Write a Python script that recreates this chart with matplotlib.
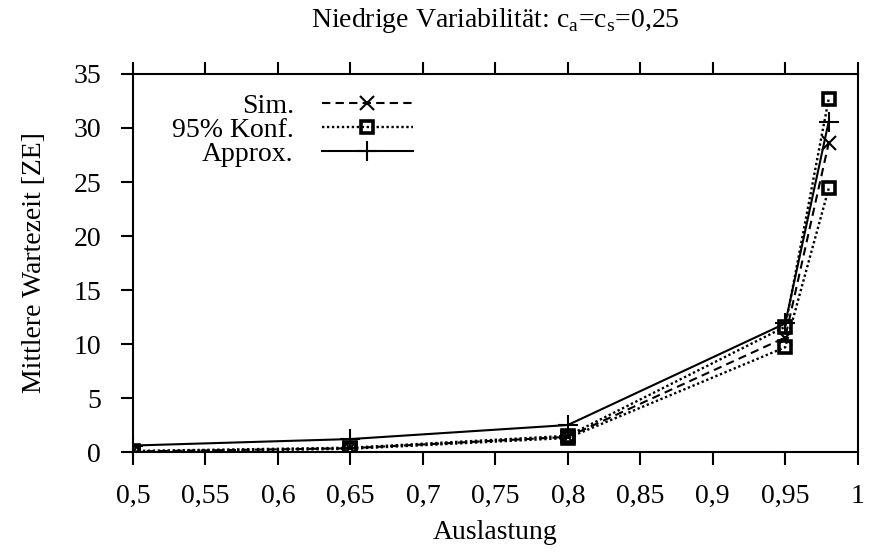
import matplotlib
matplotlib.use('Agg')
from matplotlib import pyplot as plt
import numpy as np

plt.rcParams['font.family'] = ['Liberation Serif', 'DejaVu Serif']
plt.rcParams['mathtext.fontset'] = 'custom'
plt.rcParams['mathtext.rm'] = 'Liberation Serif'

# Auslastung
rho = [0.5, 0.65, 0.8, 0.95, 0.98]
sim = [0.05, 0.35, 1.4, 10.6, 28.6]
konf_hi = [0.1, 0.4, 1.5, 11.6, 32.7]
konf_lo = [0.0, 0.3, 1.3, 9.7, 24.4]
approx = [0.6, 1.2, 2.5, 11.9, 30.6]

xticks = [0.5, 0.55, 0.6, 0.65, 0.7, 0.75, 0.8, 0.85, 0.9, 0.95, 1.0]
xlabels = ['0,5', '0,55', '0,6', '0,65', '0,7', '0,75', '0,8', '0,85', '0,9', '0,95', '1']
yticks = [0, 5, 10, 15, 20, 25, 30, 35]

fs = 20
fig = plt.figure(figsize=(8.69, 5.53), dpi=100)
ax = fig.add_axes([0.153, 0.1826, 0.834, 0.6836])

lw = 1.5
ax.plot(rho, sim, color='k', lw=lw, ls=(0, (4, 2.5)), marker='x', ms=10, mew=1.5,
        label='Sim.')
ax.plot(rho, konf_hi, color='k', lw=1.7, ls=(0, (1, 1.1)), marker='s', ms=9, mew=2.6,
        mfc='none', label='95% Konf.')
ax.plot(rho, konf_lo, color='k', lw=1.7, ls=(0, (1, 1.1)), marker='s', ms=9, mew=2.6,
        mfc='none')
ax.plot(rho, approx, color='k', lw=lw, ls='-', marker='+', ms=15, mew=1.5,
        label='Approx.')

ax.set_xlim(0.5, 1.0)
ax.set_ylim(0, 35)
ax.set_xticks(xticks)
ax.set_xticklabels(xlabels)
ax.set_yticks(yticks)
for s in ax.spines.values():
    s.set_linewidth(1.5)
ax.tick_params(axis='both', direction='out', length=9, width=1.5, labelsize=fs)
ax.tick_params(axis='x', top=True, bottom=True, pad=14)
ax.tick_params(axis='y', left=True, right=False, pad=14)

ax.set_xlabel('Auslastung', fontsize=fs, labelpad=8)
ax.set_ylabel('Mittlere Wartezeit [ZE]', fontsize=fs, labelpad=19)
ax.set_title(r'Niedrige Variabilität: c$_\mathrm{a}$=c$_\mathrm{s}$=0,25', fontsize=fs, pad=34)

leg = ax.legend(loc='upper left', bbox_to_anchor=(0.027, 1.0), frameon=False, fontsize=fs,
                markerfirst=False, handlelength=3.3, labelspacing=-0.05, handletextpad=1.0,
                borderaxespad=0.3)
for col in leg._legend_handle_box.get_children():
    col.align = 'right'

fig.savefig('out.png', dpi=100)
